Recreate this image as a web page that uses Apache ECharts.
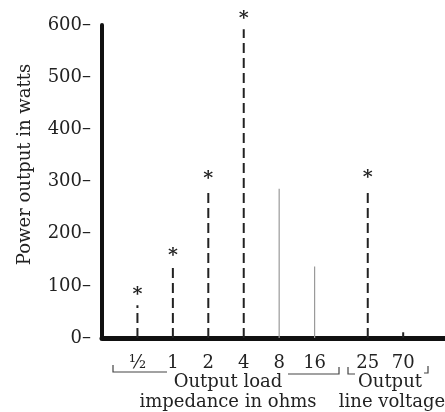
<!DOCTYPE html>
<html>
<head>
<meta charset="utf-8">
<script src="https://cdn.jsdelivr.net/npm/echarts@6/dist/echarts.min.js"></script>
<style>
  html, body { margin: 0; padding: 0; background: #fff; }
  #chart { width: 445px; height: 412px; }
</style>
</head>
<body>
<div id="chart"></div>
<script>
// ---- data ----
const categories = ['½', '1', '2', '4', '8', '16', '25', '70'];
const groups = ['load', 'load', 'load', 'load', 'load', 'load', 'voltage', 'voltage'];
// dashed stems (marked with an asterisk)
const dashedValues = [63, 137, 286, 592, null, null, 287, null];
// thin solid stems
const solidValues = [null, null, null, null, 286, 137, null, null];
// short dark stub
const stubValues = [null, null, null, null, null, null, null, 11];
const yMin = 0, yMax = 600, yStep = 100;
const yAxisTitle = 'Power output in watts';
const groupTitles = { load: ['Output load', 'impedance in ohms'], voltage: ['Output', 'line voltage'] };

// ---- layout helpers ----
const GROUP_GAP = 0.5;
const positions = [];
(function () {
  let offset = 0;
  for (let i = 0; i < categories.length; i++) {
    if (i > 0 && groups[i] !== groups[i - 1]) offset += GROUP_GAP;
    positions.push(i + offset);
  }
})();

function toSeriesData(values) {
  const out = [];
  values.forEach((v, i) => { if (v != null) out.push([positions[i], v]); });
  return out;
}

const FONT = '"DejaVu Serif", serif';
const INK = '#222';

function stemRenderer(opts) {
  return function (params, api) {
    const x = api.value(0), v = api.value(1);
    const p0 = api.coord([x, 0]);
    const p1 = api.coord([x, v]);
    const children = [{
      type: 'line',
      shape: { x1: p0[0], y1: p0[1], x2: p1[0], y2: p1[1] },
      style: { stroke: opts.color, lineWidth: opts.width, lineDash: opts.dash || null }
    }];
    if (opts.star) {
      children.push({
        type: 'text',
        style: {
          text: '*', x: p1[0], y: p1[1] - 10,
          align: 'center', verticalAlign: 'middle',
          font: 'bold 19px ' + FONT, fill: INK
        }
      });
    }
    return { type: 'group', children };
  };
}

const chart = echarts.init(document.getElementById('chart'));

const option = {
  backgroundColor: '#fff',
  animation: false,
  grid: { left: 102, right: 0, top: 25, bottom: 74, containLabel: false },
  xAxis: {
    type: 'value',
    min: -1,
    max: 8.68,
    interval: 0.5,
    splitLine: { show: false },
    axisTick: { show: false },
    axisLine: { show: true, onZero: false, lineStyle: { color: '#111', width: 5 } },
    axisLabel: {
      margin: 16,
      fontFamily: FONT, fontSize: 18, color: INK,
      showMinLabel: false, showMaxLabel: false,
      formatter: function (v) {
        const idx = positions.findIndex(p => Math.abs(p - v) < 1e-6);
        return idx >= 0 ? categories[idx] : '';
      }
    }
  },
  yAxis: {
    type: 'value',
    min: yMin, max: yMax, interval: yStep,
    splitLine: { show: false },
    axisTick: { show: false },
    axisLine: { show: true, onZero: false, lineStyle: { color: '#111', width: 4 } },
    axisLabel: {
      margin: 11,
      fontFamily: FONT, fontSize: 18, color: INK,
      formatter: v => v + '–'
    },
    name: yAxisTitle,
    nameLocation: 'middle',
    nameGap: 68,
    nameTextStyle: { fontFamily: FONT, fontSize: 18, color: INK, padding: [0, 0, 0, 34] }
  },
  series: [
    {
      type: 'custom',
      renderItem: stemRenderer({ color: '#222', width: 2, dash: [10, 5], star: true }),
      data: toSeriesData(dashedValues),
      z: 5
    },
    {
      type: 'custom',
      renderItem: stemRenderer({ color: '#9a9a9a', width: 1.2 }),
      data: toSeriesData(solidValues),
      z: 4
    },
    {
      type: 'custom',
      renderItem: stemRenderer({ color: '#222', width: 2 }),
      data: toSeriesData(stubValues),
      z: 4
    }
  ],
  graphic: [
    // group titles
    { type: 'text', x: 228, y: 382, style: { text: groupTitles.load[0], font: '18px ' + FONT, fill: INK, align: 'center', verticalAlign: 'middle' } },
    { type: 'text', x: 228, y: 402, style: { text: groupTitles.load[1], font: '18px ' + FONT, fill: INK, align: 'center', verticalAlign: 'middle' } },
    { type: 'text', x: 390, y: 382, style: { text: groupTitles.voltage[0], font: '18px ' + FONT, fill: INK, align: 'center', verticalAlign: 'middle' } },
    { type: 'text', x: 392, y: 402, style: { text: groupTitles.voltage[1], font: '18px ' + FONT, fill: INK, align: 'center', verticalAlign: 'middle' } },
    // brackets
    { type: 'polyline', shape: { points: [[113, 365], [113, 372], [167, 372]] }, style: { stroke: '#444', lineWidth: 1.2, fill: null } },
    { type: 'polyline', shape: { points: [[288, 374], [339, 374], [339, 367]] }, style: { stroke: '#444', lineWidth: 1.2, fill: null } },
    { type: 'polyline', shape: { points: [[348, 367], [348, 374], [355, 374]] }, style: { stroke: '#444', lineWidth: 1.2, fill: null } },
    { type: 'polyline', shape: { points: [[424, 373], [428, 373], [428, 366]] }, style: { stroke: '#444', lineWidth: 1.2, fill: null } }
  ]
};

chart.setOption(option);
</script>
</body>
</html>
